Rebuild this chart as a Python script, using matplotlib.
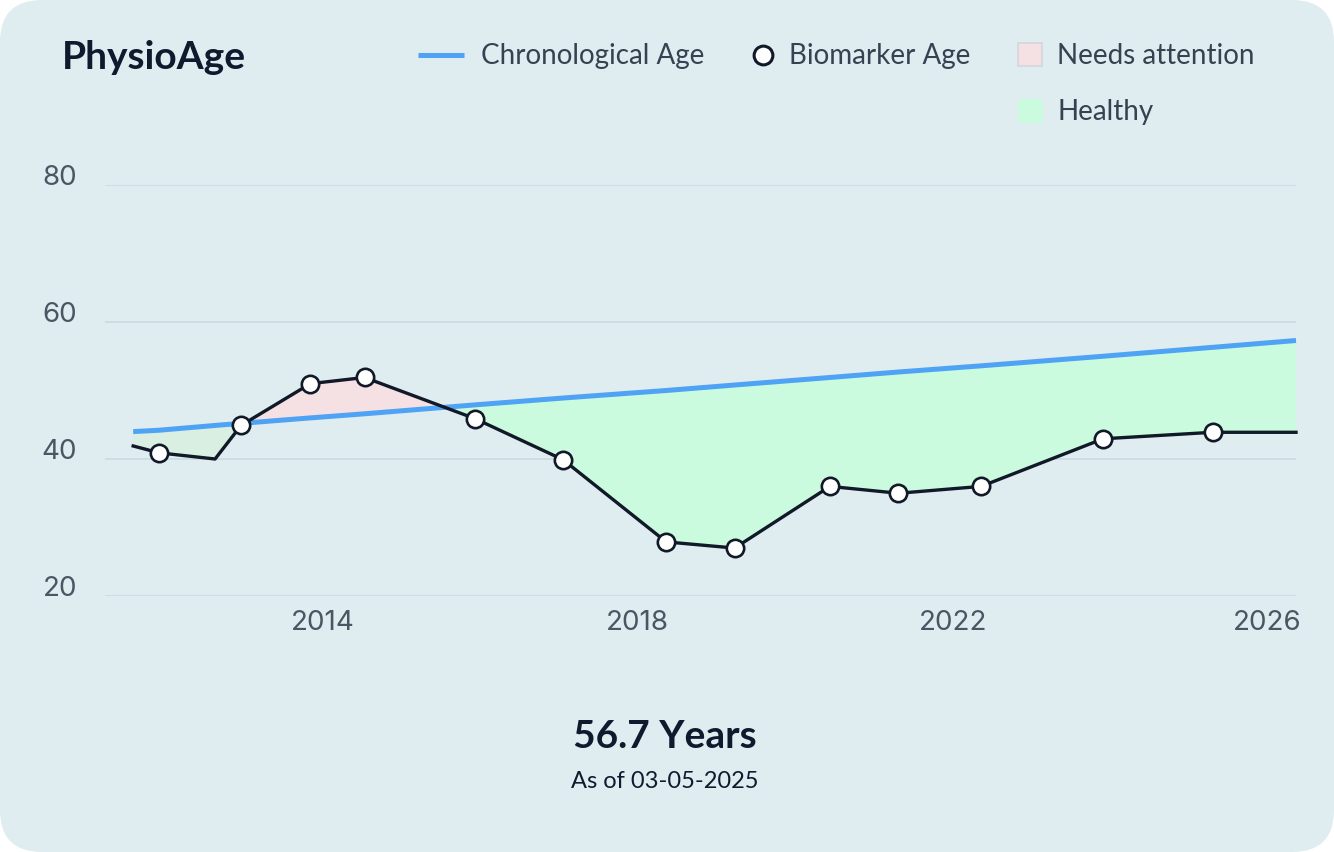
import matplotlib
matplotlib.use("Agg")
import matplotlib.pyplot as plt
from matplotlib.patches import FancyBboxPatch, Rectangle
from matplotlib.lines import Line2D
from matplotlib.transforms import IdentityTransform
import numpy as np

# ---------------- data ----------------
years = [2011.59, 2011.92, 2012.63, 2012.96, 2013.84, 2014.53, 2015.93, 2017.05,
         2018.36, 2019.23, 2020.44, 2021.31, 2022.36, 2023.91, 2025.30, 2026.36]
chronological_age = [44.0, 44.2, 44.9, 45.2, 46.0, 46.6, 47.9, 48.9,
                     50.0, 50.8, 51.9, 52.7, 53.6, 55.0, 56.3, 57.3]
biomarker_age = [41.9, 40.9, 40.0, 44.9, 51.0, 51.9, 45.9, 39.9,
                 27.9, 27.0, 36.0, 35.0, 36.0, 42.95, 43.9, 43.9]
marker_shown = [False, True, False, True, True, True, True, True,
                True, True, True, True, True, True, True, False]
y_ticks = [20, 40, 60, 80]
x_ticks = [2014, 2018, 2022, 2026]
title = "PhysioAge"
headline = "56.7 Years"
subline = "As of 03-05-2025"
legend_labels = ["Chronological Age", "Biomarker Age", "Needs attention", "Healthy"]

# ---------------- style ----------------
W, H = 1334, 852
BG = "#dfecf0"
BLUE = "#4ea3f5"
DARK = "#111827"
MINT = "#cbfbde"
PALE_GREEN = "#d8efe2"
PINK = "#f5e1e3"
GRID = "#c9dce2"
TICK = "#4b5563"
LEG = "#374151"
TITLE = "#0f1a2e"
FONT = ["Lato", "DejaVu Sans"]
TFONT = ["Inter", "DejaVu Sans"]
LEG_FS = 20

x = np.array(years)
chrono = np.array(chronological_age)
bio = np.array(biomarker_age)
mask = np.array(marker_shown)

fig = plt.figure(figsize=(W / 100, H / 100), dpi=100)
fig.patch.set_facecolor("white")
bg = FancyBboxPatch((0, 0), W, H, boxstyle="round,pad=0,rounding_size=42",
                    transform=IdentityTransform(), facecolor=BG, edgecolor="none", zorder=0)
fig.add_artist(bg)

def fx(px):
    return px / W

def fy(py):
    return 1 - py / H

ax = fig.add_axes([fx(105), fy(596), (1296 - 105) / W, (596 - 185) / H])
ax.set_facecolor("none")
ax.set_xlim(2011.232, 2026.36)
ax.set_ylim(20, 80)

# fills
g = ax.fill_between(x, chrono, bio, where=bio <= chrono, interpolate=True, lw=0, zorder=1)
n = len(g.get_paths())
g.set_facecolors([PALE_GREEN] + [MINT] * (n - 1))
ax.fill_between(x, chrono, bio, where=bio >= chrono, interpolate=True, color=PINK, lw=0, zorder=1)

# lines
ax.plot(x, chrono, color=BLUE, lw=3.6, solid_capstyle="butt", zorder=3, clip_on=False)
ax.plot(x, bio, color=DARK, lw=2.4, zorder=4, clip_on=False)
ax.plot(x[mask], bio[mask], "o", ms=12.5, mfc="white", mec=DARK, mew=1.9, zorder=5, clip_on=False)

# axes styling
for s in ax.spines.values():
    s.set_visible(False)
ax.set_yticks(y_ticks)
ax.set_yticklabels([str(v) for v in y_ticks], va="baseline", family=TFONT)
ax.set_xticks(x_ticks)
ax.set_xticklabels([str(v) for v in x_ticks], family=TFONT)
ax.tick_params(axis="y", length=0, pad=20, labelsize=20, labelcolor=TICK)
ax.tick_params(axis="x", length=0, pad=10, labelsize=20, labelcolor=TICK)
ax.yaxis.grid(True, color=GRID, lw=1.2)
ax.xaxis.grid(False)
ax.set_axisbelow(True)

# title
fig.text(fx(62), fy(69), title, fontsize=28, fontweight="bold", color=TITLE,
         ha="left", va="baseline", family=FONT)

# legend (manual layout)
fig.add_artist(Line2D([fx(418), fx(464)], [fy(55), fy(55)], transform=fig.transFigure,
                      color=BLUE, lw=3.6, solid_capstyle="butt"))
fig.text(fx(481), fy(64), legend_labels[0], fontsize=LEG_FS, color=LEG, va="baseline", family=FONT)
fig.add_artist(Line2D([fx(763)], [fy(55)], transform=fig.transFigure, marker="o",
                      ms=13.5, mfc="white", mec=DARK, mew=2.2, ls="none"))
fig.text(fx(789), fy(64), legend_labels[1], fontsize=LEG_FS, color=LEG, va="baseline", family=FONT)
fig.add_artist(Rectangle((fx(1018), fy(66)), 24 / W, 23 / H, transform=fig.transFigure,
                         facecolor=PINK, edgecolor="#d2d7da", lw=1.2))
fig.text(fx(1057), fy(64), legend_labels[2], fontsize=LEG_FS, color=LEG, va="baseline", family=FONT)
fig.add_artist(Rectangle((fx(1018), fy(123)), 25 / W, 24 / H, transform=fig.transFigure,
                         facecolor=MINT, edgecolor="none"))
fig.text(fx(1057), fy(120), legend_labels[3], fontsize=LEG_FS, color=LEG, va="baseline", family=FONT)

# bottom summary
fig.text(fx(665), fy(748), headline, fontsize=28, fontweight="bold", color=TITLE,
         ha="center", va="baseline", family=FONT)
fig.text(fx(665), fy(788), subline, fontsize=17, color=TITLE,
         ha="center", va="baseline", family=FONT)

fig.savefig("out.png", dpi=100, facecolor=fig.get_facecolor())
